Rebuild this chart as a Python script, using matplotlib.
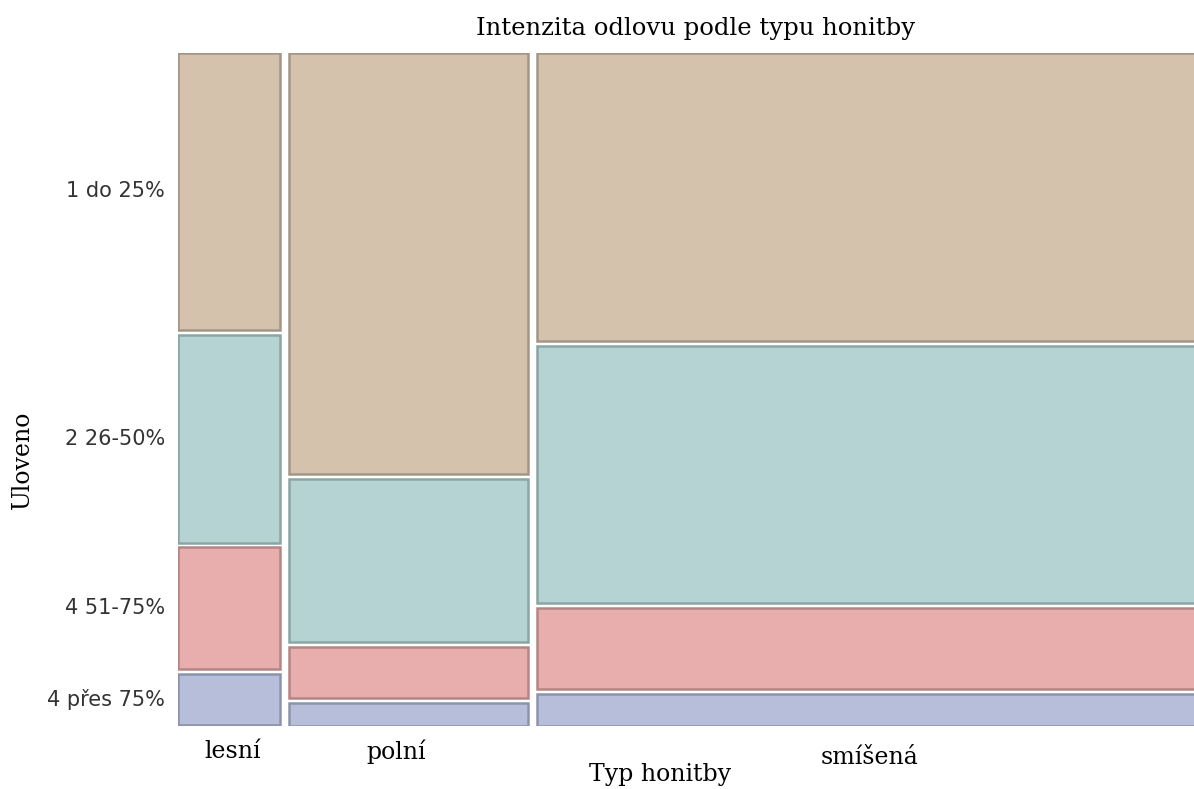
import numpy as np
import matplotlib
matplotlib.use('Agg')
import matplotlib.pyplot as plt

# mosaic data: counts per hunting-ground type and catch category
types = ['lesní', 'polní', 'smíšená']
categories = ['1 do 25%', '2 26-50%', '4 51-75%', '4 přes 75%']
counts_lesni = [16, 12, 7, 3]
counts_polni = [57, 22, 7, 3]
counts_smisena = [110, 98, 31, 12]

fills = ['#d4c2ad', '#b5d3d2', '#e8adad', '#b7bed9']
edges = ['#a39686', '#8aa5a4', '#b58585', '#8c93ab']

X_GAP = 3.4      # gap between columns, in count units
Y_GAP = 0.0072   # gap between tiles, fraction of height

fig = plt.figure(figsize=(11.94, 7.89), dpi=100)
ax = fig.add_axes([178 / 1194, 63.5 / 789, 1016 / 1194, 673 / 789])

all_counts = [counts_lesni, counts_polni, counts_smisena]
x0 = 0.0
centers = []
for ti, cnt in enumerate(all_counts):
    cnt = np.array(cnt, dtype=float)
    w = cnt.sum()
    props = cnt / w * (1 - Y_GAP * (len(cnt) - 1))
    top = 1.0
    for ci, p in enumerate(props):
        bottom = top - p
        ax.bar(x0, p, width=w, bottom=bottom, align='edge',
               color=fills[ci], edgecolor=edges[ci], linewidth=1.8)
        if ti == 0:
            centers.append(bottom + p / 2)
        top = bottom - Y_GAP
    x0 += w + X_GAP

ax.set_xlim(0, 379)
ax.set_ylim(0, 1)
ax.set_axis_off()

# category labels centred on the first column
for lab, yc in zip(categories, centers):
    ax.text(-4.8, yc, lab, ha='right', va='center', fontsize=15,
            color='#333333', family='DejaVu Sans')

serif = 'DejaVu Serif'
fig.text(233 / 1194, 1 - 752 / 789, 'lesní', ha='center', va='center',
         fontsize=17, family=serif)
fig.text(396 / 1194, 1 - 752 / 789, 'polní', ha='center', va='center',
         fontsize=17, family=serif)
fig.text(869 / 1194, 1 - 757 / 789, 'smíšená', ha='center', va='center',
         fontsize=17, family=serif)
fig.text(660 / 1194, 1 - 775 / 789, 'Typ honitby', ha='center', va='center',
         fontsize=17, family=serif)
fig.text(22 / 1194, 1 - 460 / 789, 'Uloveno', ha='center', va='center',
         rotation=90, fontsize=17, family=serif)
fig.text(696 / 1194, 1 - 29 / 789, 'Intenzita odlovu podle typu honitby',
         ha='center', va='center', fontsize=17.5, family=serif)

fig.savefig('out.png', dpi=100)
